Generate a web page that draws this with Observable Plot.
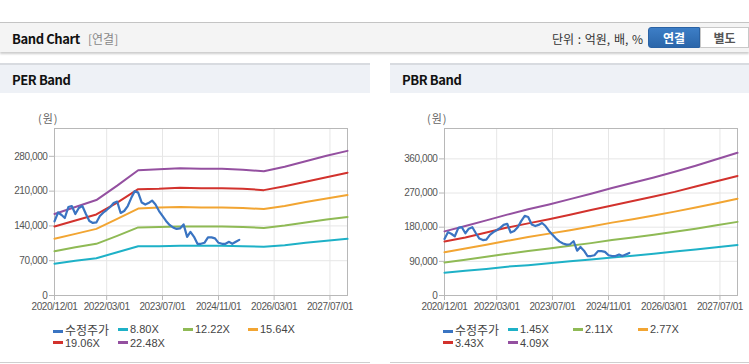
<!DOCTYPE html>
<html><head><meta charset="utf-8">
<script src="https://cdn.jsdelivr.net/npm/d3@7"></script>
<script src="https://cdn.jsdelivr.net/npm/@observablehq/plot@0.6"></script>
<style>
body{margin:0;width:749px;height:364px;overflow:hidden;background:#fff;position:relative;font-family:"Liberation Sans",Arial,sans-serif}
.abs{position:absolute}
.topbar{left:0;top:22px;width:749px;height:29px;background:#f4f4f4;border-top:1px solid #c4c4c4;box-shadow:0 2px 2px rgba(0,0,0,0.2)}
.ttl{font-family:"Noto Sans CJK KR",sans-serif;font-weight:bold;font-size:13px;color:#111;letter-spacing:-0.4px}
.sub{font-family:"Noto Sans CJK KR",sans-serif;font-size:12px;color:#888}
.unit{font-family:"Noto Sans CJK KR",sans-serif;font-size:12px;color:#333;word-spacing:1px}
.btn{font-family:"Noto Sans CJK KR",sans-serif;font-size:12px;font-weight:bold;text-align:center;line-height:19px}
.panel{border-bottom:1px solid #cfcfcf}
.phead{height:28px;background:#eef1f6;border-top:2px solid #d8dbe0}
.unitlbl{font-family:"Noto Sans CJK KR",sans-serif;font-size:11px;color:#666;letter-spacing:1px}
.leg{font-size:11px;color:#444;white-space:nowrap;line-height:13px}
.leg .sw{display:inline-block;width:10px;height:3px;vertical-align:middle;margin-right:2px;position:relative;top:-1px}
.kr{font-family:"Noto Sans CJK KR",sans-serif;font-size:12px}
</style></head><body>
<div class="abs topbar"></div>
<div class="abs ttl" style="left:12px;top:29px;">Band Chart</div>
<div class="abs sub" style="left:88px;top:30px;">[연결]</div>
<div class="abs unit" style="left:552px;top:30px;">단위 : 억원, 배, %</div>
<div class="abs btn" style="left:648px;top:27px;width:52px;background:linear-gradient(#3d7ec6,#2b66aa);color:#fff;border-radius:3px 0 0 3px;border:1px solid #2a62a4;box-sizing:border-box;height:21px;">연결</div>
<div class="abs btn" style="left:700px;top:27px;width:49px;background:#fff;color:#555;border:1px solid #c8c8c8;box-sizing:border-box;height:21px;">별도</div>

<div class="abs panel" style="left:0;top:63px;width:370px;height:299px;"></div>
<div class="abs panel" style="left:390px;top:63px;width:359px;height:299px;"></div>
<div class="abs phead" style="left:0;top:63px;width:370px;"></div>
<div class="abs phead" style="left:390px;top:63px;width:359px;"></div>
<div class="abs ttl" style="left:12px;top:70px;">PER Band</div>
<div class="abs ttl" style="left:402px;top:70px;">PBR Band</div>
<div class="abs unitlbl" style="left:38px;top:110px;">(원)</div>
<div class="abs unitlbl" style="left:427px;top:110px;">(원)</div>
<div id="c1" class="abs" style="left:0;top:100px;"></div>
<div id="c2" class="abs" style="left:390px;top:100px;"></div>
<div id="l1"></div><div id="l2"></div>
<script>
// ---- data ----
const bandDates = ["2020-12-01","2021-06-01","2021-12-01","2022-06-01","2022-12-01","2023-06-01","2023-12-01","2024-06-01","2024-12-01","2025-06-01","2025-12-01","2026-06-01","2026-12-01","2027-06-01","2027-12-01"];

const perNames = ["8.80X","12.22X","15.64X","19.06X","22.48X"];
const per880  = [64000,70000,75000,87000,99000,99000,100000,100000,100000,99000,98000,101000,106000,110000,114000];
const per1222 = [89000,97000,104000,120000,137000,138000,139000,139000,139000,138000,136000,141000,147000,153000,158000];
const per1564 = [114000,124000,134000,154000,175000,177000,178000,177000,177000,176000,174000,180000,188000,195000,202000];
const per1906 = [139000,151000,163000,187000,214000,215000,217000,216000,216000,215000,212000,220000,229000,238000,247000];
const per2248 = [164000,178000,192000,221000,252000,254000,256000,255000,255000,253000,250000,259000,270000,281000,291000];

const pbrNames = ["1.45X","2.11X","2.77X","3.43X","4.09X"];
const pbr145 = [60000,65000,70000,76000,80000,85000,90000,95000,100000,105000,110000,116000,121000,127000,133000];
const pbr211 = [87000,94000,102000,110000,117000,124000,131000,138000,146000,153000,160000,168000,176000,185000,194000];
const pbr277 = [114000,124000,134000,144000,154000,163000,172000,182000,192000,201000,211000,221000,232000,243000,255000];
const pbr343 = [142000,153000,166000,179000,190000,201000,213000,225000,237000,249000,261000,273000,287000,301000,315000];
const pbr409 = [169000,183000,198000,213000,227000,240000,254000,268000,283000,297000,311000,326000,342000,359000,376000];

const priceDates = ["2020-12","2021-01","2021-02","2021-03","2021-04","2021-05","2021-06","2021-07","2021-08","2021-09","2021-10","2021-11","2021-12",
"2022-01","2022-02","2022-03","2022-04","2022-05","2022-06","2022-07","2022-08","2022-09","2022-10","2022-11","2022-12",
"2023-01","2023-02","2023-03","2023-04","2023-05","2023-06","2023-07","2023-08","2023-09","2023-10","2023-11","2023-12",
"2024-01","2024-02","2024-03","2024-04","2024-05","2024-06","2024-07","2024-08","2024-09","2024-10","2024-11","2024-12",
"2025-01","2025-02","2025-03","2025-04","2025-05"];
const price = [149000,167000,162000,156000,178000,180000,164000,176000,180000,164000,150000,146000,147000,
160000,167000,172000,178000,186000,189000,166000,170000,180000,196000,210000,207000,
187000,183000,186000,191000,183000,170000,160000,150000,142000,137000,134000,135000,
143000,118000,128000,118000,104000,104000,106000,117000,117000,115000,106000,104000,
104000,108000,104000,108000,112000];

const xTickDates = ["2020-12-01","2022-03-01","2023-07-01","2024-11-01","2026-03-01","2027-07-01"];
const perTicks = [0,70000,140000,210000,280000];
const pbrTicks = [0,90000,180000,270000,360000];
const priceName = "수정주가";
const colors = {price:"#3a74c2", c1:"#1eb1c7", c2:"#8fba55", c3:"#f2a532", c4:"#d2322d", c5:"#9450a0"};

// ---- drawing ----
const parse = d3.utcParse("%Y-%m-%d");
const parseM = d3.utcParse("%Y-%m");
const bd = bandDates.map(parse);
const pd = priceDates.map(parseM);
const xt = xTickDates.map(parse);
const fmtX = d3.utcFormat("%Y/%m/%d");
const fmtY = d3.format(",");
const bandColors = [colors.c1,colors.c2,colors.c3,colors.c4,colors.c5];

function chart(series, ticks, ymax, width) {
  const marks = [
    Plot.gridY(ticks, {stroke:"#e6e6e6", strokeOpacity:1}),
    Plot.gridX(xt, {stroke:"#e6e6e6", strokeOpacity:1}),
    Plot.frame({stroke:"#b8b8b8"}),
    Plot.axisY(ticks, {tickFormat:fmtY, tickSize:5, tickPadding:2, stroke:"#b8b8b8", fill:"#555", label:null}),
    Plot.axisX(xt, {tickFormat:fmtX, tickSize:5, tickPadding:2, stroke:"#b8b8b8", fill:"#555", label:null})
  ];
  series.forEach((vals,i)=>{
    marks.push(Plot.line(vals.map((v,j)=>({d:bd[j], v})), {x:"d", y:"v", stroke:bandColors[i], strokeWidth:2}));
  });
  marks.push(Plot.line(price.map((v,j)=>({d:pd[j], v})), {x:"d", y:"v", stroke:colors.price, strokeWidth:2.2}));
  return Plot.plot({
    width, height:220, marginLeft:54, marginRight:width-347, marginTop:28, marginBottom:25,
    style:{fontFamily:"Liberation Sans, Arial, sans-serif", fontSize:"10px", letterSpacing:"-0.4px", background:"transparent", overflow:"visible"},
    x:{type:"utc", domain:[parse("2020-12-01"), parse("2027-12-01")]},
    y:{domain:[0,ymax]},
    marks
  });
}
document.getElementById("c1").appendChild(chart([per880,per1222,per1564,per1906,per2248], perTicks, 336000, 370));
document.getElementById("c2").appendChild(chart([pbr145,pbr211,pbr277,pbr343,pbr409], pbrTicks, 440000, 359));

function legend(id, x0, names) {
  const el = document.getElementById(id);
  const items = [{n:priceName,c:colors.price,kr:true}].concat(names.map((n,i)=>({n,c:bandColors[i]})));
  items.forEach((it,i)=>{
    const col = i%4, row = Math.floor(i/4);
    const d = document.createElement("div");
    d.className = "abs leg";
    d.style.left = (x0 + col*65) + "px";
    d.style.top = (323 + row*13.5) + "px";
    d.innerHTML = `<span class="sw" style="background:${it.c}"></span><span class="${it.kr?'kr':''}">${it.n}</span>`;
    el.appendChild(d);
  });
}
legend("l1", 53, perNames);
legend("l2", 443, pbrNames);
</script>
</body></html>
